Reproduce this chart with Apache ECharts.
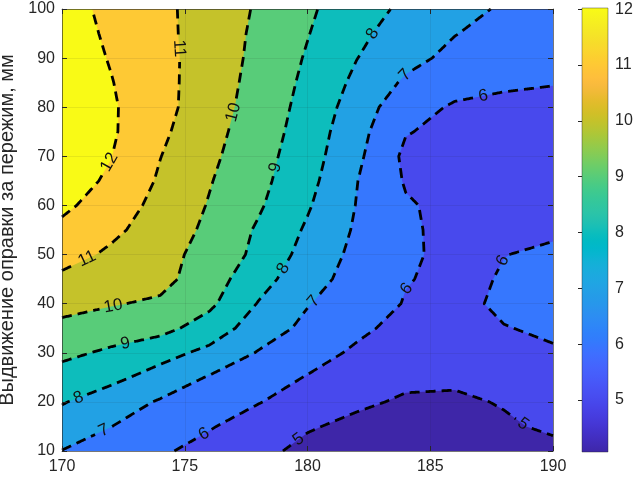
<!DOCTYPE html>
<html><head><meta charset="utf-8">
<script src="https://cdn.jsdelivr.net/npm/echarts@6/dist/echarts.min.js"></script>
<style>html,body{margin:0;padding:0;background:#fff}#c{width:634px;height:481px}</style>
</head><body><div id="c"></div>
<script>
// ---- data ----
const xValues = [170,172,174,176,178,180,182,184,186,188,190];
const yValues = [10,15,20,25,30,35,40,45,50,55,60,65,70,75,80,85,90,95,100];
const zAt10  = [6.98, 6.57, 6.13, 5.68, 5.23, 4.77, 4.45, 4.20, 4.10, 4.30, 4.80];
const zAt15  = [7.52, 7.01, 6.53, 6.07, 5.58, 5.08, 4.80, 4.55, 4.49, 4.90, 5.12];
const zAt20  = [8.07, 7.48, 6.91, 6.48, 6.04, 5.59, 5.14, 4.90, 4.88, 5.05, 5.45];
const zAt25  = [8.64, 8.25, 7.61, 6.93, 6.44, 5.95, 5.50, 5.17, 5.13, 5.45, 5.70];
const zAt30  = [9.21, 8.85, 8.35, 7.75, 6.94, 6.39, 5.85, 5.45, 5.40, 5.90, 5.95];
const zAt35  = [9.77, 9.46, 9.30, 8.56, 7.50, 6.77, 6.20, 5.70, 5.62, 5.98, 6.08];
const zAt40  = [10.30,10.07,9.85, 9.20, 7.95, 7.05, 6.47, 5.95, 5.85, 6.10, 6.20];
const zAt45  = [10.80,10.45,10.30,9.45, 8.39, 7.37, 6.64, 6.04, 5.82, 6.05, 6.15];
const zAt50  = [11.37,10.84,10.32,9.67, 8.76, 7.63, 6.76, 6.12, 5.80, 5.99, 6.08];
const zAt55  = [11.75,11.20,10.56,9.80, 8.88, 7.87, 6.88, 6.12, 5.78, 5.84, 5.93];
const zAt60  = [12.22,11.48,10.73,9.94, 9.12, 8.10, 6.97, 6.09, 5.75, 5.65, 5.80];
const zAt65  = [12.45,11.85,10.88,10.06,9.27, 8.30, 7.03, 5.92, 5.68, 5.58, 5.68];
const zAt70  = [12.60,12.02,11.02,10.20,9.38, 8.44, 7.21, 5.80, 5.65, 5.55, 5.60];
const zAt75  = [12.68,12.13,11.19,10.32,9.49, 8.57, 7.34, 6.05, 5.75, 5.67, 5.70];
const zAt80  = [12.70,12.12,11.32,10.45,9.58, 8.68, 7.55, 6.35, 5.90, 5.80, 5.80];
const zAt85  = [12.63,12.04,11.31,10.51,9.67, 8.79, 7.79, 6.85, 6.32, 6.12, 6.03];
const zAt90  = [12.55,11.94,11.29,10.56,9.75, 8.91, 8.02, 7.29, 6.75, 6.45, 6.25];
const zAt95  = [12.45,11.85,11.25,10.57,9.81, 9.04, 8.21, 7.57, 7.03, 6.67, 6.40];
const zAt100 = [12.35,11.78,11.22,10.59,9.89, 9.15, 8.43, 7.81, 7.33, 6.88, 6.55];
const zRows = [zAt10,zAt15,zAt20,zAt25,zAt30,zAt35,zAt40,zAt45,zAt50,zAt55,zAt60,zAt65,zAt70,zAt75,zAt80,zAt85,zAt90,zAt95,zAt100];
const levels = [5,6,7,8,9,10,11,12];
const colorRange = [4.07, 12.02];
const colorbarTicks = [5,6,7,8,9,10,11,12];
// contour labels: approximate position [x, y, level]
const labelX = [172.0,174.9,171.1,177.1,172.1,178.8,172.6,182.6,179.1,170.7,184.05,180.3,171.75,187.15,184.0,187.9,175.8,179.6,188.9];
const labelY = [68.6, 92.0, 48.3, 78.8, 39.1, 67.6, 31.4, 95.1, 46.9, 20.4, 86.2, 40.3, 13.7, 82.5, 43.2, 48.9, 13.3, 12.6, 16.3];
const labelLevel = [12,11,11,10,10,9,9,8,8,8,7,7,7,6,6,6,6,5,5];
const yTitle = 'Выдвижение оправки за пережим, мм';

// ---- parula colormap ----
const parula = [[0.2422,0.1504,0.6603],[0.2504,0.1650,0.7076],[0.2578,0.1818,0.7511],[0.2647,0.1978,0.7952],[0.2706,0.2147,0.8364],[0.2751,0.2342,0.8710],[0.2783,0.2559,0.8991],[0.2803,0.2782,0.9221],[0.2813,0.3006,0.9414],[0.2810,0.3228,0.9579],[0.2795,0.3447,0.9717],[0.2760,0.3667,0.9829],[0.2699,0.3892,0.9906],[0.2602,0.4123,0.9952],[0.2440,0.4358,0.9988],[0.2206,0.4603,0.9973],[0.1963,0.4847,0.9892],[0.1834,0.5074,0.9798],[0.1786,0.5289,0.9682],[0.1764,0.5499,0.9520],[0.1687,0.5703,0.9359],[0.1540,0.5902,0.9218],[0.1460,0.6091,0.9079],[0.1380,0.6276,0.8973],[0.1248,0.6459,0.8883],[0.1113,0.6635,0.8763],[0.0952,0.6798,0.8598],[0.0689,0.6948,0.8394],[0.0297,0.7082,0.8163],[0.0036,0.7203,0.7917],[0.0067,0.7312,0.7660],[0.0433,0.7411,0.7394],[0.0964,0.7500,0.7120],[0.1408,0.7584,0.6842],[0.1717,0.7670,0.6554],[0.1938,0.7758,0.6251],[0.2161,0.7843,0.5923],[0.2470,0.7918,0.5567],[0.2906,0.7973,0.5188],[0.3406,0.8008,0.4789],[0.3909,0.8029,0.4354],[0.4456,0.8024,0.3909],[0.5044,0.7993,0.3480],[0.5616,0.7942,0.3045],[0.6174,0.7876,0.2612],[0.6720,0.7793,0.2227],[0.7242,0.7698,0.1910],[0.7738,0.7598,0.1646],[0.8203,0.7498,0.1535],[0.8634,0.7406,0.1596],[0.9035,0.7330,0.1774],[0.9393,0.7288,0.2100],[0.9728,0.7298,0.2394],[0.9956,0.7434,0.2371],[0.9970,0.7659,0.2199],[0.9952,0.7893,0.2028],[0.9892,0.8136,0.1885],[0.9786,0.8386,0.1766],[0.9676,0.8639,0.1643],[0.9610,0.8890,0.1537],[0.9597,0.9135,0.1423],[0.9628,0.9373,0.1265],[0.9691,0.9606,0.1064],[0.9769,0.9839,0.0805]];
function rgb(c){return 'rgb('+c.map(v=>Math.round(v*255)).join(',')+')';}
function colorOf(v){
  let t=(v-colorRange[0])/(colorRange[1]-colorRange[0]); t=Math.max(0,Math.min(1,t));
  const f=t*(parula.length-1); const i=Math.min(Math.floor(f),parula.length-2); const u=f-i;
  const a=parula[i], b=parula[i+1];
  return rgb([0,1,2].map(k=>a[k]+(b[k]-a[k])*u));
}

// ---- marching squares on the data grid ----
const nx=xValues.length, ny=yValues.length;
const zv=(i,j)=>zRows[j][i];
function cellPieces(L){
  const polys=[], segs=[];
  for(let j=0;j<ny-1;j++) for(let i=0;i<nx-1;i++){
    const nodes=[[i,j],[i+1,j],[i+1,j+1],[i,j+1]];
    const pts=[];
    for(let k=0;k<4;k++){
      const a=nodes[k], b=nodes[(k+1)%4];
      const va=zv(a[0],a[1]), vb=zv(b[0],b[1]);
      const ia=va>=L, ib=vb>=L;
      if(ia) pts.push({p:[xValues[a[0]],yValues[a[1]]],type:'c'});
      if(ia!==ib){
        const t=(L-va)/(vb-va);
        const p=[xValues[a[0]]+(xValues[b[0]]-xValues[a[0]])*t, yValues[a[1]]+(yValues[b[1]]-yValues[a[1]])*t];
        const ida=a[1]*nx+a[0], idb=b[1]*nx+b[0];
        pts.push({p,type:ia?'exit':'entry',key:Math.min(ida,idb)+'_'+Math.max(ida,idb)});
      }
    }
    if(pts.length>=3) polys.push(pts.map(o=>o.p));
    for(let m=0;m<pts.length;m++) if(pts[m].type==='exit') segs.push([pts[m],pts[(m+1)%pts.length]]);
  }
  return {polys,segs};
}
function chain(segs){
  const byKey=new Map();
  segs.forEach((s,idx)=>s.forEach(e=>{if(!byKey.has(e.key))byKey.set(e.key,[]);byKey.get(e.key).push(idx);}));
  const used=new Array(segs.length).fill(false);
  const lines=[];
  function walk(idx,key){
    const s0=segs[idx]; const line=[(s0[0].key===key?s0[0]:s0[1]).p];
    while(idx!==-1&&!used[idx]){
      used[idx]=true; const s=segs[idx];
      const other=s[0].key===key?s[1]:s[0];
      line.push(other.p); key=other.key;
      const cand=(byKey.get(key)||[]).filter(k=>!used[k]);
      idx=cand.length?cand[0]:-1;
    }
    return line;
  }
  for(const [key,list] of byKey) if(list.length===1&&!used[list[0]]) lines.push(walk(list[0],key));
  for(let i=0;i<segs.length;i++) if(!used[i]) lines.push(walk(i,segs[i][0].key));
  return lines;
}
const pieces={}, contourLines={};
levels.forEach(L=>{const r=cellPieces(L); pieces[L]=r.polys; contourLines[L]=chain(r.segs);});

const FONT='Liberation Sans, Arial, sans-serif';
const LABEL_SIZE=17;

function renderContour(params, api){
  const c=p=>api.coord(p);
  const children=[];
  const p00=c([xValues[0],yValues[0]]), p11=c([xValues[nx-1],yValues[ny-1]]);
  children.push({type:'rect',shape:{x:p00[0],y:p11[1],width:p11[0]-p00[0],height:p00[1]-p11[1]},style:{fill:colorOf(colorRange[0])}});
  levels.forEach(L=>{
    let d='';
    pieces[L].forEach(poly=>{poly.forEach((p,k)=>{const q=c(p);d+=(k?'L':'M')+q[0].toFixed(2)+' '+q[1].toFixed(2);});d+='Z';});
    if(d) children.push({type:'path',shape:{pathData:d},style:{fill:colorOf(L)}});
  });
  const labs=[];
  labelX.forEach((lx,n)=>{
    const L=labelLevel[n]; const target=c([lx,labelY[n]]);
    let best=null;
    contourLines[L].forEach(line=>{
      const px=line.map(c);
      for(let k=0;k<px.length-1;k++){
        const a=px[k], b=px[k+1]; const dx=b[0]-a[0], dy=b[1]-a[1]; const l2=dx*dx+dy*dy||1;
        let t=((target[0]-a[0])*dx+(target[1]-a[1])*dy)/l2; t=Math.max(0,Math.min(1,t));
        const q=[a[0]+dx*t,a[1]+dy*t]; const dd=(q[0]-target[0])**2+(q[1]-target[1])**2;
        if(!best||dd<best.dd) best={dd,q,dx,dy};
      }
    });
    if(!best) return;
    let ang=Math.atan2(-best.dy,best.dx);
    if(ang>Math.PI/2) ang-=Math.PI; if(ang<=-Math.PI/2) ang+=Math.PI;
    const txt=String(L); const r=txt.length*LABEL_SIZE*0.28+4;
    labs.push({L,pos:best.q,ang,txt,r});
  });
  levels.forEach(L=>{
    const myLabs=labs.filter(o=>o.L===L);
    contourLines[L].forEach(line=>{
      const px=line.map(c); let run=[]; const runs=[];
      const inside=p=>myLabs.some(o=>(p[0]-o.pos[0])**2+(p[1]-o.pos[1])**2<o.r*o.r);
      for(let k=0;k<px.length-1;k++){
        const a=px[k], b=px[k+1]; const len=Math.hypot(b[0]-a[0],b[1]-a[1]); const n=Math.max(1,Math.ceil(len));
        for(let s=(k===0?0:1);s<=n;s++){
          const p=[a[0]+(b[0]-a[0])*s/n,a[1]+(b[1]-a[1])*s/n];
          if(inside(p)){ if(run.length>1) runs.push(run); run=[]; }
          else run.push(p);
        }
      }
      if(run.length>1) runs.push(run);
      runs.forEach(rn=>children.push({type:'polyline',shape:{points:rn},style:{fill:null,stroke:'#000',lineWidth:2.8,lineDash:[10,6],lineJoin:'round'}}));
    });
  });
  labs.forEach(o=>children.push({type:'text',x:o.pos[0],y:o.pos[1],rotation:o.ang,style:{text:o.txt,x:0,y:0,align:'center',verticalAlign:'middle',fill:'#111',font:LABEL_SIZE+'px '+FONT}}));
  return {type:'group',children};
}
function renderColorbar(params, api){
  const a=api.coord([0,colorRange[0]]), b=api.coord([1,colorRange[1]]);
  const stops=parula.map((cc,i)=>({offset:i/(parula.length-1),color:rgb(cc)}));
  return {type:'rect',shape:{x:a[0],y:b[1],width:b[0]-a[0],height:a[1]-b[1]},
    style:{fill:new echarts.graphic.LinearGradient(0,1,0,0,stops),stroke:'rgba(38,38,38,0.7)',lineWidth:0.6}};
}

const axisText={color:'#262626',fontSize:16,fontFamily:FONT};
const chart=echarts.init(document.getElementById('c'),null,{renderer:'canvas'});
chart.setOption({
  animation:false,
  grid:[{left:62,top:9,width:491,height:442,outerBoundsMode:'none',containLabel:false},
        {left:582,top:8,width:26,height:444,outerBoundsMode:'none',containLabel:false}],
  xAxis:[
    {type:'value',gridIndex:0,min:170,max:190,interval:5,z:5,position:'bottom',
      axisLine:{show:true,onZero:false,lineStyle:{color:'#262626',width:0.6}},
      axisTick:{inside:true,length:5,lineStyle:{color:'#262626'}},
      axisLabel:Object.assign({margin:8},axisText),
      splitLine:{show:true,lineStyle:{color:'rgba(38,38,38,0.15)',width:0.6}}},
    {type:'value',gridIndex:0,min:170,max:190,interval:5,z:5,position:'top',
      axisLine:{show:true,onZero:false,lineStyle:{color:'#262626',width:0.6}},
      axisTick:{inside:true,length:5,lineStyle:{color:'#262626'}},axisLabel:{show:false},splitLine:{show:false}},
    {type:'value',gridIndex:1,min:0,max:1,show:false}
  ],
  yAxis:[
    {type:'value',gridIndex:0,min:10,max:100,interval:10,z:5,position:'left',
      name:yTitle,nameLocation:'middle',nameRotate:90,nameGap:41,
      nameTextStyle:{color:'#262626',fontSize:20,fontFamily:FONT},
      axisLine:{show:true,onZero:false,lineStyle:{color:'#262626',width:0.6}},
      axisTick:{inside:true,length:5,lineStyle:{color:'#262626'}},
      axisLabel:Object.assign({margin:7},axisText),
      splitLine:{show:true,lineStyle:{color:'rgba(38,38,38,0.15)',width:0.6}}},
    {type:'value',gridIndex:0,min:10,max:100,interval:10,z:5,position:'right',
      axisLine:{show:true,onZero:false,lineStyle:{color:'#262626',width:0.6}},
      axisTick:{inside:true,length:5,lineStyle:{color:'#262626'}},axisLabel:{show:false},splitLine:{show:false}},
    {type:'value',gridIndex:1,min:colorRange[0],max:colorRange[1],position:'right',z:5,
      axisLine:{show:false},
      axisTick:{show:true,inside:true,length:4,customValues:colorbarTicks,lineStyle:{color:'#262626'}},
      axisLabel:Object.assign({margin:7,customValues:colorbarTicks},axisText),
      splitLine:{show:false}}
  ],
  series:[
    {type:'custom',coordinateSystem:'cartesian2d',xAxisIndex:0,yAxisIndex:0,data:[[180,50]],renderItem:renderContour,silent:true,z:2},
    {type:'custom',coordinateSystem:'cartesian2d',xAxisIndex:2,yAxisIndex:2,data:[[0.5,8]],renderItem:renderColorbar,silent:true,z:2}
  ]
});
</script></body></html>
